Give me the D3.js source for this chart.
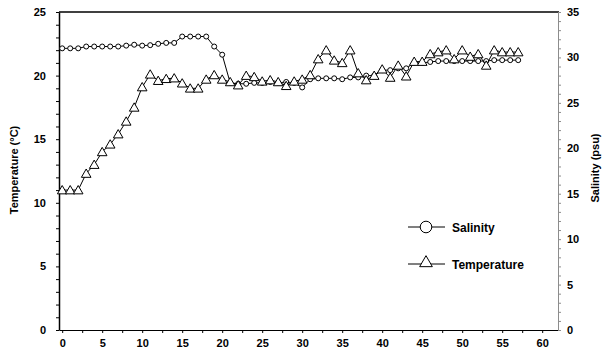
<!DOCTYPE html>
<html>
  <head>
    <meta charset="utf-8"/>
    <style>
body {
  margin: 0;
  background: #fff;
}
svg text {
  font-family: "Liberation Sans", Arial, sans-serif;
  font-weight: bold;
}
    </style>
  </head>
  <body>
    <svg id="chart" width="607" height="353"></svg>
    <script src="https://cdnjs.cloudflare.com/ajax/libs/d3/7.8.5/d3.min.js"></script>
    <script>
// day of sampling
const days = [
  0, 1, 2, 3, 4, 5, 6, 7, 8, 9,
  10, 11, 12, 13, 14, 15, 16, 17, 18, 19,
  20, 21, 22, 23, 24, 25, 26, 27, 28, 29,
  30, 31, 32, 33, 34, 35, 36, 37, 38, 39,
  40, 41, 42, 43, 44, 45, 46, 47, 48, 49,
  50, 51, 52, 53, 54, 55, 56, 57
];
// psu, right axis
const salinity = [
  31.0, 31.0, 31.0, 31.2, 31.2, 31.2, 31.2, 31.2, 31.3, 31.4,
  31.3, 31.35, 31.5, 31.6, 31.6, 32.3, 32.3, 32.3, 32.3, 31.2,
  30.3, 27.2, 27.1, 27.1, 27.2, 27.2, 27.3, 27.2, 27.3, 27.2,
  26.7, 27.6, 27.7, 27.7, 27.7, 27.6, 27.8, 27.8, 28.0, 28.0,
  28.6, 28.6, 28.8, 28.8, 29.4, 29.4, 29.5, 29.6, 29.6, 29.6,
  29.6, 29.6, 29.6, 29.6, 29.7, 29.7, 29.7, 29.7
];
// deg C, left axis
const temperature = [
  11.0, 11.0, 11.0, 12.3, 13.0, 14.0, 14.6, 15.4, 16.4, 17.5,
  19.1, 20.1, 19.6, 19.75, 19.8, 19.4, 19.0, 19.0, 19.7, 20.05,
  19.7, 19.5, 19.25, 20.0, 19.9, 19.55, 19.65, 19.5, 19.2, 19.55,
  19.7, 20.05, 21.3, 22.0, 21.2, 21.0, 22.0, 20.2, 19.65, 20.0,
  20.5, 19.85, 20.8, 19.95, 21.1, 21.1, 21.7, 21.85, 22.0, 21.3,
  22.0, 21.5, 21.7, 20.8, 22.0, 21.85, 21.85, 21.85
];
const xTicks = d3.range(0, 62.5, 2.5);
const tempTicks = d3.range(0, 26, 1);
const salTicks = d3.range(0, 36, 1);
const legendItems = ["Salinity", "Temperature"];

const svg = d3.select("#chart");

const x = d3.scaleLinear().domain([-0.4, 62.1]).range([59, 559]);
const yT = d3.scaleLinear().domain([0, 25]).range([330, 12]);
const yS = d3.scaleLinear().domain([0, 35]).range([330, 12]);

// top border
svg.append("line")
    .attr("x1", 59).attr("x2", 559)
    .attr("y1", 12).attr("y2", 12)
    .attr("stroke", "#404040")
    .attr("stroke-width", 2);

function styleAxis(g, color) {
  g.select(".domain").attr("stroke", color);
  g.selectAll(".tick line").attr("stroke", color);
  g.selectAll(".tick text")
    .attr("fill", "#000")
    .style("font-size", "11px")
    .style("font-family", "'Liberation Sans', Arial, sans-serif")
    .style("font-weight", "bold");
}

svg.append("g")
    .attr("transform", "translate(0,330)")
    .call(d3.axisBottom(x)
      .tickValues(xTicks)
      .tickFormat(d => d % 5 === 0 ? d : "")
      .tickSize(3)
      .tickSizeOuter(0)
      .tickPadding(6))
    .call(g => styleAxis(g, "#000"));

svg.append("g")
    .attr("transform", "translate(59,0)")
    .call(d3.axisLeft(yT)
      .tickValues(tempTicks)
      .tickFormat(d => d % 5 === 0 ? d : "")
      .tickSize(3)
      .tickSizeOuter(0)
      .tickPadding(10))
    .call(g => styleAxis(g, "#000"))
    .call(g => g.select(".domain").attr("stroke-width", 1.5));

svg.append("g")
    .attr("transform", "translate(558,0)")
    .call(d3.axisRight(yS)
      .tickValues(salTicks)
      .tickFormat(d => d % 5 === 0 ? d : "")
      .tickSize(3)
      .tickSizeOuter(0)
      .tickPadding(6))
    .call(g => styleAxis(g, "#8c8c8c"));

// axis titles
svg.append("text")
    .attr("transform", "translate(18,170) rotate(-90)")
    .attr("text-anchor", "middle")
    .style("font-size", "11px")
    .text("Temperature (°C)");

svg.append("text")
    .attr("transform", "translate(599,168) rotate(-90)")
    .attr("text-anchor", "middle")
    .style("font-size", "11px")
    .text("Salinity (psu)");

// salinity series
svg.append("path")
    .datum(days)
    .attr("fill", "none")
    .attr("stroke", "#000")
    .attr("d", d3.line().x(d => x(d)).y((d, i) => yS(salinity[i])));

svg.append("g")
  .selectAll("circle")
  .data(days)
  .join("circle")
    .attr("cx", d => x(d))
    .attr("cy", (d, i) => yS(salinity[i]))
    .attr("r", 2.5)
    .attr("fill", "#fff")
    .attr("stroke", "#000");

// temperature series
svg.append("path")
    .datum(days)
    .attr("fill", "none")
    .attr("stroke", "#000")
    .attr("d", d3.line().x(d => x(d)).y((d, i) => yT(temperature[i])));

const tri = d3.symbol(d3.symbolTriangle, 40);
svg.append("g")
  .selectAll("path")
  .data(days)
  .join("path")
    .attr("d", tri)
    .attr("transform", (d, i) => `translate(${x(d)},${yT(temperature[i]) + 1})`)
    .attr("fill", "#fff")
    .attr("stroke", "#000");

// legend
const legend = svg.append("g");
legendItems.forEach((name, i) => {
  let ly = 227 + i * 37;
  legend.append("line")
    .attr("x1", 408).attr("x2", 445)
    .attr("y1", ly).attr("y2", ly)
    .attr("stroke", "#000");
  if (name === "Salinity") {
    legend.append("circle")
      .attr("cx", 426).attr("cy", ly)
      .attr("r", 5.8)
      .attr("fill", "#fff")
      .attr("stroke", "#000");
  } else {
    legend.append("path")
      .attr("d", d3.symbol(d3.symbolTriangle, 70)())
      .attr("transform", `translate(426,${ly - 1})`)
      .attr("fill", "#fff")
      .attr("stroke", "#000");
  }
  legend.append("text")
    .attr("x", 452)
    .attr("y", ly + 4.5)
    .style("font-size", "12px")
    .text(name);
});
    </script>
  </body>
</html>
